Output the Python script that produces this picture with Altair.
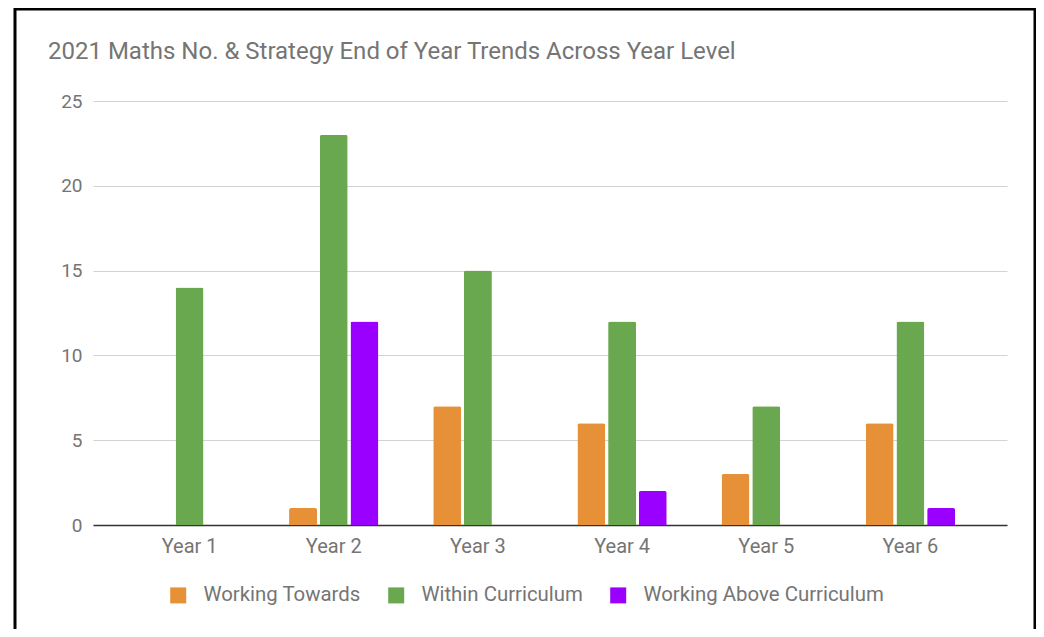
import altair as alt
import pandas as pd

years = ["Year 1", "Year 2", "Year 3", "Year 4", "Year 5", "Year 6"]
series = ["Working Towards", "Within Curriculum", "Working Above Curriculum"]
working_towards = [0, 1, 7, 6, 3, 6]
within_curriculum = [14, 23, 15, 12, 7, 12]
working_above = [0, 12, 0, 2, 0, 1]
colors = ["#e69138", "#6aa84f", "#9900ff"]
y_ticks = [0, 5, 10, 15, 20, 25]
title_text = "2021 Maths No. & Strategy End of Year Trends Across Year Level"

rows = []
for name, vals in zip(series, [working_towards, within_curriculum, working_above]):
    for yr, v in zip(years, vals):
        rows.append({"year": yr, "series": name, "value": v})
df = pd.DataFrame(rows)

FONT = "Roboto"
GRAY = "#757575"

bars = alt.Chart(df).mark_bar(cornerRadiusTopLeft=2, cornerRadiusTopRight=2).encode(
    x=alt.X(
        "year:N",
        sort=years,
        title=None,
        scale=alt.Scale(paddingInner=0.38, paddingOuter=0.36),
        axis=alt.Axis(
            labelAngle=0, ticks=False, domainColor="#333333", domainWidth=1.5,
            labelFont=FONT, labelFontSize=20, labelColor=GRAY, labelPadding=11,
        ),
    ),
    xOffset=alt.XOffset("series:N", sort=series, scale=alt.Scale(paddingInner=0.09, paddingOuter=0)),
    y=alt.Y(
        "value:Q",
        title=None,
        scale=alt.Scale(domain=[0, 25], nice=False),
        axis=alt.Axis(
            values=y_ticks, domain=False, ticks=False, gridColor="#d3d3d3",
            labelFont=FONT, labelFontSize=19, labelColor=GRAY, labelPadding=11,
        ),
    ),
    color=alt.Color(
        "series:N",
        sort=series,
        scale=alt.Scale(domain=series, range=colors),
        legend=alt.Legend(
            title=None, orient="none", direction="horizontal", columns=3,
            legendX=75, legendY=484,
            symbolType="square", symbolSize=256, symbolStrokeWidth=0, symbolOpacity=1,
            labelFont=FONT, labelFontSize=20.4, labelColor=GRAY, labelOffset=15,
            labelLimit=400, columnPadding=25,
        ),
    ),
)

frame = alt.Chart(pd.DataFrame({"a": [0]})).mark_rect(
    fill="transparent", stroke="black", strokeWidth=3
).encode(
    x=alt.value(-78), x2=alt.value(942), y=alt.value(-92), y2=alt.value(700)
)

chart = alt.layer(bars, frame).properties(
    width=914,
    height=424,
    autosize=alt.AutoSizeParams(type="none"),
    padding={"left": 85, "top": 93, "right": 29, "bottom": 104},
    title=alt.Title(
        title_text, anchor="start", frame="group", dx=-45, offset=-56,
        font=FONT, fontSize=24, fontWeight="normal", color=GRAY,
    ),
).configure_view(stroke=None)

chart.save("out.html", embed_options={"renderer": "svg", "actions": False})
